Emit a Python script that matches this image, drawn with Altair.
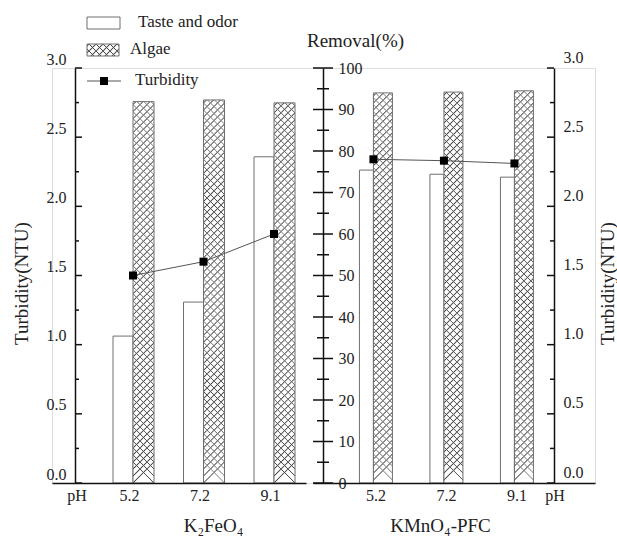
import altair as alt
import pandas as pd

# ---------------- data ----------------
ph = ["5.2", "7.2", "9.1"]
fe_taste = [35.4, 43.6, 78.6]      # Removal (%) taste and odor, K2FeO4
fe_algae = [91.9, 92.3, 91.6]      # Removal (%) algae, K2FeO4
fe_turb = [1.50, 1.60, 1.80]       # Turbidity (NTU), K2FeO4
km_taste = [75.4, 74.4, 73.7]      # KMnO4-PFC
km_algae = [94.0, 94.2, 94.5]
km_turb = [2.34, 2.33, 2.31]

turb_ticks = [0.0, 0.5, 1.0, 1.5, 2.0, 2.5, 3.0]
turb_minor = [0.25, 0.75, 1.25, 1.75, 2.25, 2.75]
removal_ticks = [0, 10, 20, 30, 40, 50, 60, 70, 80, 90, 100]
removal_minor = [5, 15, 25, 35, 45, 55, 65, 75, 85, 95]
legend_labels = ["Taste and odor", "Algae", "Turbidity"]
panel_titles = ["K\u2082FeO\u2084", "KMnO\u2084-PFC"]
x_prefix = "pH"
y_left_title = "Turbidity(NTU)"
y_mid_title = "Removal(%)"
y_right_title = "Turbidity(NTU)"

fe = pd.DataFrame({"ph": ph, "taste": fe_taste, "algae": fe_algae, "turb": fe_turb})
km = pd.DataFrame({"ph": ph, "taste": km_taste, "algae": km_algae, "turb": km_turb})

# ---------------- style ----------------
W, H = 543, 415
FONT = "Liberation Serif"
AX = "#111111"
TXT = "#222222"
BAR_STROKE = "#6e6e6e"
HATCH = "#4a4a4a"
CLEAR = "rgba(255,255,255,0)"


def hatch(w, h, D, back, bg, fg, hw=1.3, phase=3.0):
    """45-degree line pattern built as a many-stop linear gradient."""
    L = h + w * w / h
    stops = []
    n = 0
    while True:
        s = phase + n * D
        if s - hw > w + h:
            break
        a, c, b = (s - hw) / L, s / L, (s + hw) / L
        if a >= 1:
            break
        a = max(0.0, a)
        b = min(1.0, b)
        c = min(1.0, max(0.0, c))
        stops += [(a, bg), (c, fg), (b, bg)]
        n += 1
    p = w / h
    if back:
        x1, y1, x2, y2 = 1, 0, 1 - p, 1
    else:
        x1, y1, x2, y2 = 0, 0, p, 1
    return alt.LinearGradient(
        gradient="linear",
        stops=[alt.GradientStop(offset=round(o, 5), color=col) for o, col in stops],
        x1=x1, y1=y1, x2=x2, y2=y2,
    )


sL = alt.Scale(type="point", domain=ph, range=[0, 254], padding=0.8014, align=0.717)
sR = alt.Scale(type="point", domain=ph, range=[261, 543], padding=1.3306, align=0.4286)
sRem = alt.Scale(domain=[0, 100], nice=False, zero=True)
sTurb = alt.Scale(domain=[0, 3], nice=False, zero=True)


def xaxis(title, tx, loff):
    return alt.Axis(orient="bottom", domain=True, domainColor=AX, domainWidth=1.5,
                    ticks=False, labelPadding=4, labelOffset=loff, labelAngle=0,
                    labelFont=FONT, labelFontSize=16, labelColor=TXT,
                    title=title, titleX=tx, titleY=48, titleAlign="center",
                    titleBaseline="alphabetic", titleFont=FONT, titleFontSize=19,
                    titleFontWeight="normal", titleColor=TXT, zindex=1, grid=False)


def bar_layer(df, xs, field, width, xoff, fill, stroke, xax=None):
    return alt.Chart(df).mark_bar(width=width, xOffset=xoff, fill=fill,
                                  stroke=stroke, strokeWidth=1 if stroke else 0).encode(
        x=alt.X("ph:N", scale=xs, axis=xax, sort=ph),
        y=alt.Y(field + ":Q", scale=sRem, axis=None),
    )


def line_layers(df, xs):
    base = alt.Chart(df).encode(
        x=alt.X("ph:N", scale=xs, axis=None, sort=ph),
        y=alt.Y("turb:Q", scale=sTurb, axis=None),
    )
    return [base.mark_line(color="#555555", strokeWidth=1),
            base.mark_square(size=64, color="black", opacity=1, filled=True)]


def tick_marks(vals, scale, xc, length):
    # axis tick marks placed through the value scale
    return alt.Chart(pd.DataFrame({"v": vals})).mark_tick(
        orient="horizontal", color=AX, thickness=1.5, size=length, opacity=1).encode(
        y=alt.Y("v:Q", scale=scale, axis=None), x=alt.value(xc))


def axis_layer(vals, scale, axis):
    return alt.Chart(pd.DataFrame({"v": vals})).mark_point(opacity=0).encode(
        y=alt.Y("v:Q", scale=scale, axis=axis))


def text_layer(txt, x, y, size=16, align="center", baseline="middle"):
    return alt.Chart(pd.DataFrame({"t": [txt]})).mark_text(
        font=FONT, fontSize=size, color=TXT, align=align, baseline=baseline).encode(
        text="t:N", x=alt.value(x), y=alt.value(y))


lab = dict(grid=False, ticks=False, tickSize=0, domain=True, domainColor=AX, domainWidth=1.5,
           labelFont=FONT, labelFontSize=16, labelColor=TXT,
           titleFont=FONT, titleFontSize=19, titleFontWeight="normal", titleColor=TXT)

one = pd.DataFrame({"a": [0]})
layers = []

# ---- left panel (K2FeO4) ----
gA1 = hatch(21, 381, 7, False, "white", HATCH)
gA2 = hatch(21, 381, 7, True, CLEAR, HATCH)
layers.append(bar_layer(fe, sL, "taste", 20, -10, "white", BAR_STROKE,
                        xaxis(panel_titles[0], 161, -4)))
layers.append(bar_layer(fe, sL, "algae", 21, 10.5, gA1, None))
layers.append(bar_layer(fe, sL, "algae", 21, 10.5, gA2, BAR_STROKE))
layers += line_layers(fe, sL)

# ---- right panel (KMnO4-PFC) ----
gB1 = hatch(19, 391, 7, False, "white", HATCH)
gB2 = hatch(19, 391, 7, True, CLEAR, HATCH)
layers.append(bar_layer(km, sR, "taste", 14, -7, "white", BAR_STROKE,
                        xaxis(panel_titles[1], 388, 2)))
layers.append(bar_layer(km, sR, "algae", 19, 9.5, gB1, None))
layers.append(bar_layer(km, sR, "algae", 19, 9.5, gB2, BAR_STROKE))
layers += line_layers(km, sR)

# ---- y axes ----
# left turbidity (ticks point inward)
layers.append(tick_marks(turb_ticks, sTurb, 26.5, 7))
layers.append(tick_marks(turb_minor, sTurb, 25, 4))
layers.append(axis_layer(turb_ticks, sTurb, alt.Axis(
    orient="left", offset=-23, values=turb_ticks, labels=True, format=".1f",
    labelPadding=9, labelOffset=-9,
    title=y_left_title, titleX=-54, titleY=215, titleAngle=270,
    titleAlign="center", titleBaseline="middle", **lab)))
# middle removal (ticks cross the axis)
layers.append(tick_marks(removal_ticks, sRem, 271, 20))
layers.append(tick_marks(removal_minor, sRem, 271, 12))
layers.append(axis_layer(removal_ticks, sRem, alt.Axis(
    orient="right", offset=-272, values=removal_ticks, labels=True, format="d",
    labelPadding=15,
    title=y_mid_title, titleX=32, titleY=-28, titleAngle=0,
    titleAlign="center", titleBaseline="middle", **lab)))
# right turbidity (ticks point inward)
layers.append(tick_marks(turb_ticks, sTurb, 498.5, 7))
layers.append(tick_marks(turb_minor, sTurb, 500, 4))
layers.append(axis_layer(turb_ticks, sTurb, alt.Axis(
    orient="right", offset=-41, values=turb_ticks, labels=True, format=".1f",
    labelPadding=9, labelOffset=-11,
    title=y_right_title, titleX=53, titleY=215, titleAngle=270,
    titleAlign="center", titleBaseline="middle", **lab)))

# ---- pH labels ----
layers.append(text_layer(x_prefix, 25, 428))
layers.append(text_layer(x_prefix, 503, 428))

# ---- legend ----
gL1 = hatch(32, 12, 7, False, "white", HATCH, phase=2)
gL2 = hatch(32, 12, 7, True, CLEAR, HATCH, phase=2)
layers.append(alt.Chart(one).mark_rect(fill="white", stroke=BAR_STROKE, strokeWidth=1).encode(
    x=alt.value(35), x2=alt.value(68), y=alt.value(-51), y2=alt.value(-39)))
layers.append(alt.Chart(one).mark_rect(fill=gL1, strokeWidth=0).encode(
    x=alt.value(35), x2=alt.value(67), y=alt.value(-24), y2=alt.value(-12)))
layers.append(alt.Chart(one).mark_rect(fill=gL2, stroke=BAR_STROKE, strokeWidth=1).encode(
    x=alt.value(35), x2=alt.value(67), y=alt.value(-24), y2=alt.value(-12)))
layers.append(alt.Chart(one).mark_rule(color="#555555", strokeWidth=1).encode(
    x=alt.value(35), x2=alt.value(69), y=alt.value(13)))
layers.append(alt.Chart(one).mark_square(size=64, color="black", opacity=1, filled=True).encode(
    x=alt.value(52), y=alt.value(13)))
layers.append(text_layer(legend_labels[0], 86, -41, size=17, align="left", baseline="alphabetic"))
layers.append(text_layer(legend_labels[1], 78, -14, size=17, align="left", baseline="alphabetic"))
layers.append(text_layer(legend_labels[2], 83, 17, size=17, align="left", baseline="alphabetic"))

chart = alt.layer(*layers).resolve_scale(x="independent", y="independent").properties(
    width=W, height=H,
    autosize=alt.AutoSizeParams(type="none"),
    padding={"left": 52, "top": 68, "right": 22, "bottom": 54},
    background="white",
).configure_view(stroke=None).configure(font=FONT)

chart.save("out.html", embed_options={"renderer": "svg", "actions": False})
